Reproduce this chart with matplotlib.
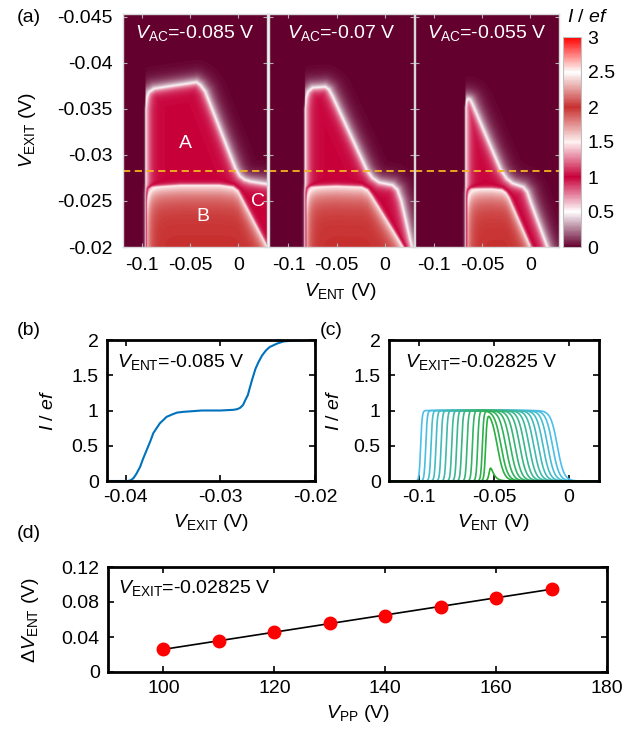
import numpy as np
import matplotlib
matplotlib.use('Agg')
import matplotlib.pyplot as plt
from matplotlib.colors import LinearSegmentedColormap

plt.rcParams['font.family'] = ['Liberation Sans', 'DejaVu Sans']
plt.rcParams['mathtext.fontset'] = 'custom'
plt.rcParams['mathtext.rm'] = 'Liberation Sans'
plt.rcParams['mathtext.it'] = 'Liberation Sans:italic'
plt.rcParams['mathtext.bf'] = 'Liberation Sans:bold'
plt.rcParams['axes.unicode_minus'] = False
FS = 14

# ---- panel (a): boundaries of the current plateaus ----
ac_labels = ['-0.085', '-0.07', '-0.055']
# outer edge (I goes 0 -> 1): (V_ENT, V_EXIT) points, first point = left edge
outer_x = [
    [-0.0968, -0.0955, -0.0935, -0.0880, -0.0700, -0.0440, -0.0400, -0.0350, -0.0035, 0.0010, 0.0060, 0.0120, 0.0300],
    [-0.0830, -0.0818, -0.0795, -0.0750, -0.0620, -0.0580, -0.0540, -0.0190, -0.0130, -0.0060, 0.0080, 0.0130, 0.0170, 0.0280],
    [-0.0678, -0.0668, -0.0650, -0.0630, -0.0610, -0.0314, -0.0250, -0.0190, -0.0080, -0.0040, 0.0000, 0.0170],
]
outer_v = [
    [-0.0350, -0.0362, -0.0368, -0.0372, -0.0375, -0.0379, -0.0376, -0.0369, -0.0285, -0.0277, -0.0273, -0.0271, -0.0268],
    [-0.0350, -0.0362, -0.0369, -0.0373, -0.0374, -0.0371, -0.0363, -0.0284, -0.0275, -0.0270, -0.0267, -0.0262, -0.0250, -0.0200],
    [-0.0352, -0.0358, -0.0361, -0.0360, -0.0356, -0.0284, -0.0274, -0.0269, -0.0265, -0.0260, -0.0248, -0.0200],
]
# inner edge (I goes 1 -> 2), region B
inner_x = [
    [-0.0951, -0.0940, -0.0900, -0.0600, -0.0200, -0.0060, -0.0010, 0.0030, 0.0295],
    [-0.0813, -0.0803, -0.0770, -0.0500, -0.0240, -0.0180, -0.0140, 0.0190],
    [-0.0660, -0.0650, -0.0620, -0.0400, -0.0300, -0.0260, -0.0230, -0.0003],
]
inner_v = [
    [-0.0258, -0.0263, -0.0265, -0.0267, -0.0267, -0.0265, -0.0261, -0.0253, -0.0200],
    [-0.0258, -0.0263, -0.0265, -0.0266, -0.0265, -0.0262, -0.0256, -0.0200],
    [-0.0257, -0.0261, -0.0263, -0.0263, -0.0262, -0.0259, -0.0254, -0.0200],
]
v_cut = -0.02825

# ---- panel (b) ----
b_x = [-0.0420, -0.0398, -0.0395, -0.0392, -0.0389, -0.0385, -0.0382, -0.0378, -0.0374, -0.0371,
       -0.0367, -0.0364, -0.0360, -0.0357, -0.0350, -0.0346, -0.0340, -0.0330, -0.0320, -0.0300,
       -0.0286, -0.0282, -0.0279, -0.0276, -0.0274, -0.0271, -0.0269, -0.0266, -0.0263, -0.0260,
       -0.0256, -0.0252, -0.0248, -0.0240, -0.0233, -0.0225, -0.0210, -0.0200]
b_y = [0.00, 0.00, 0.01, 0.04, 0.10, 0.20, 0.31, 0.44, 0.57, 0.68,
       0.76, 0.82, 0.87, 0.91, 0.95, 0.97, 0.98, 0.99, 1.00, 1.00,
       1.01, 1.02, 1.04, 1.08, 1.14, 1.22, 1.32, 1.46, 1.59, 1.68,
       1.78, 1.85, 1.90, 1.95, 1.98, 1.99, 2.00, 2.00]

# ---- panel (c): rising / falling edge positions of each trace ----
c_left = [-0.0989, -0.0955, -0.0920, -0.0887, -0.0853, -0.0818, -0.0782, -0.0749,
          -0.0716, -0.0680, -0.0644, -0.0609, -0.0578, -0.0556, -0.0530]
c_right = [-0.0078, -0.0110, -0.0142, -0.0173, -0.0204, -0.0235, -0.0266, -0.0297,
           -0.0328, -0.0360, -0.0391, -0.0422, -0.0453, -0.0478, -0.0550]

# ---- panel (d) ----
d_vpp = [100, 110, 120, 130, 140, 150, 160, 170]
d_dv = [0.0263, 0.0358, 0.0453, 0.0556, 0.0640, 0.0747, 0.0850, 0.0952]

W, H = 633, 735
fig = plt.figure(figsize=(W / 100, H / 100), dpi=100)


def fpos(l, t, r, b):
    return [l / W, 1 - b / H, (r - l) / W, (b - t) / H]


cmap = LinearSegmentedColormap.from_list('iqe', [
    (0.0, '#64002f'), (1 / 6, '#ffffff'), (2 / 6, '#c8003a'),
    (0.5, '#fff2f2'), (4 / 6, '#c83030'), (5 / 6, '#ffffff'), (1.0, '#ff0000')])

XLIM = (-0.12, 0.03)
VBOT, VTOP = -0.02, -0.0453
SX = 144.5 / (XLIM[1] - XLIM[0])
SV = 233 / (VBOT - VTOP)

gx = np.linspace(XLIM[0], XLIM[1], 290)
gv = np.linspace(VBOT, VTOP, 466)
X, V = np.meshgrid(gx, gv)


def boundary(bx, bv):
    bx = np.asarray(bx, float)
    bv = np.asarray(bv, float)
    if bv[-1] >= -0.0201:
        ex, ev = 2 * bx[-1] - bx[-2], 2 * bv[-1] - bv[-2]
    else:
        ex, ev = 0.06, bv[-1]
    px = np.r_[bx[0], bx, ex]
    pv = np.r_[-0.015, bv, ev]
    d = np.full(X.shape, 1e9)
    for k in range(len(px) - 1):
        seg = np.hypot((px[k + 1] - px[k]) * SX, (pv[k + 1] - pv[k]) * SV)
        for t in np.linspace(0, 1, max(2, int(seg / 0.3))):
            sx = px[k] + t * (px[k + 1] - px[k])
            sv = pv[k] + t * (pv[k + 1] - pv[k])
            d = np.minimum(d, np.hypot((X - sx) * SX, (V - sv) * SV))
    top = np.interp(X, px[1:], pv[1:])
    inside = (X >= bx[0]) & (V >= top)
    return inside, d, (V - top) * SV


lefts = [122.7, 269.2, 414.7]
axes_a = []
for i in range(3):
    ax = fig.add_axes(fpos(lefts[i], 14, lefts[i] + 144.5, 247))
    axes_a.append(ax)
    inA, dA, _ = boundary(outer_x[i], outer_v[i])
    w_out = np.where(X < outer_x[i][0], 0.6, 6.0)
    fA = np.where(inA, 1 - 0.5 * np.exp(-dA / 4.0), 0.5 * np.exp(-dA / w_out))
    inB, dB, dvB = boundary(inner_x[i], inner_v[i])
    fB = np.where(inB, 0.5 + 0.5 * (1 - np.exp(-np.maximum(dvB, 0) / 12)), 0.5 * np.exp(-dB / 1.5))
    Z = fA + fB
    im = ax.imshow(Z, cmap=cmap, vmin=0, vmax=3, origin='lower', aspect='auto',
                   extent=(XLIM[0], XLIM[1], VBOT, VTOP), interpolation='bilinear')
    ax.set_xlim(*XLIM)
    ax.set_ylim(VBOT, VTOP)
    ax.axhline(v_cut, color='#f2b41f', ls=(0, (4, 2.5)), lw=1.3)
    ax.set_xticks([-0.1, -0.05, 0])
    ax.set_xticklabels(['-0.1', '-0.05', '0'], fontsize=FS)
    ax.set_yticks([-0.045, -0.04, -0.035, -0.03, -0.025, -0.02])
    if i == 0:
        ax.set_yticklabels(['-0.045', '-0.04', '-0.035', '-0.03', '-0.025', '-0.02'], fontsize=FS)
    else:
        ax.set_yticklabels([])
    ax.tick_params(direction='in', length=3, color='#b0b0b0', top=True, right=True, pad=7)
    for s in ax.spines.values():
        s.set_color('#d8d8d8')
        s.set_linewidth(1.0)
    ax.text(0.5, 0.918, r'$V_{\rm AC}$=' + ac_labels[i] + ' V', transform=ax.transAxes,
            ha='center', va='center', color='white', fontsize=FS)

axes_a[0].text(-0.0553, -0.03127, 'A', color='white', fontsize=FS, ha='center', va='center')
axes_a[0].text(-0.0367, -0.0233, 'B', color='white', fontsize=FS, ha='center', va='center')
axes_a[0].text(0.0205, -0.0249, 'C', color='white', fontsize=FS, ha='center', va='center')

cax = fig.add_axes(fpos(562.7, 37, 580.7, 247))
cb = fig.colorbar(im, cax=cax, ticks=[0, 0.5, 1, 1.5, 2, 2.5, 3])
cb.ax.set_yticklabels(['0', '0.5', '1', '1.5', '2', '2.5', '3'], fontsize=FS)
cb.ax.tick_params(length=0, pad=5)
cb.outline.set_edgecolor('#c0c0c0')
fig.text(588 / W, 1 - 17 / H, r'$I$ / $ef$', fontsize=FS, ha='center', va='center')

fig.text(28 / W, 1 - 130 / H, r'$V_{\rm EXIT}$ (V)', rotation=90, fontsize=FS, ha='center', va='center')
fig.text(341 / W, 1 - 291 / H, r'$V_{\rm ENT}$ (V)', fontsize=FS, ha='center', va='center')
fig.text(17 / W, 1 - 17 / H, '(a)', fontsize=FS, ha='left', va='center')


def frame(ax):
    for s in ax.spines.values():
        s.set_linewidth(2.0)
    ax.tick_params(direction='in', length=4, width=1.2, top=True, right=True, labelsize=FS, pad=6)


# (b)
axb = fig.add_axes(fpos(107, 340, 315, 481))
axb.plot(b_x, b_y, color='#0072bd', lw=1.5)
axb.set_xlim(-0.042, -0.02)
axb.set_ylim(0, 2)
axb.set_xticks([-0.04, -0.03, -0.02])
axb.set_xticklabels(['-0.04', '-0.03', '-0.02'])
axb.set_yticks([0, 0.5, 1, 1.5, 2])
axb.set_yticklabels(['0', '0.5', '1', '1.5', '2'])
frame(axb)
axb.set_xlabel(r'$V_{\rm EXIT}$ (V)', fontsize=FS)
axb.xaxis.set_label_coords(0.5, -0.22)
axb.set_ylabel(r'$I$ / $ef$', fontsize=FS)
axb.yaxis.set_label_coords(-0.24, 0.5)
axb.text(0.05, 0.845, r'$V_{\rm ENT}$=-0.085 V', transform=axb.transAxes, fontsize=FS, va='center')
fig.text(17 / W, 1 - 331 / H, '(b)', fontsize=FS, ha='left', va='center')

# (c)
axc = fig.add_axes(fpos(389, 340, 599, 481))
xc = np.linspace(-0.12, 0.02, 800)
c0 = np.array([0.30, 0.75, 0.93])
c1 = np.array([0.16, 0.68, 0.20])
n = len(c_left)
for k in range(n):
    rise = 1 / (1 + np.exp(-(xc - c_left[k]) / 0.0005))
    fall = 1 / (1 + np.exp((xc - c_right[k]) / 0.0022))
    col = c0 + (c1 - c0) * k / (n - 1)
    axc.plot(xc, rise * fall, color=col, lw=1.2)
axc.set_xlim(-0.12, 0.02)
axc.set_ylim(0, 2)
axc.set_xticks([-0.1, -0.05, 0])
axc.set_xticklabels(['-0.1', '-0.05', '0'])
axc.set_yticks([0, 0.5, 1, 1.5, 2])
axc.set_yticklabels(['0', '0.5', '1', '1.5', '2'])
frame(axc)
axc.set_xlabel(r'$V_{\rm ENT}$ (V)', fontsize=FS)
axc.xaxis.set_label_coords(0.5, -0.22)
axc.set_ylabel(r'$I$ / $ef$', fontsize=FS)
axc.yaxis.set_label_coords(-0.22, 0.5)
axc.text(0.075, 0.845, r'$V_{\rm EXIT}$=-0.02825 V', transform=axc.transAxes, fontsize=FS, va='center')
fig.text(320 / W, 1 - 331 / H, '(c)', fontsize=FS, ha='left', va='center')

# (d)
axd = fig.add_axes(fpos(108, 567, 607, 672))
coef = np.polyfit(d_vpp, d_dv, 1)
fit_x = np.array([d_vpp[0], d_vpp[-1]])
axd.plot(fit_x, np.polyval(coef, fit_x), color='black', lw=1.2, zorder=2)
axd.plot(d_vpp, d_dv, 'o', color='#ff0000', ms=9, mec='#ff0000', zorder=3)
axd.set_xlim(90, 180)
axd.set_ylim(0, 0.12)
axd.set_xticks([100, 120, 140, 160, 180])
axd.set_yticks([0, 0.04, 0.08, 0.12])
axd.set_yticklabels(['0', '0.04', '0.08', '0.12'])
frame(axd)
axd.set_xlabel(r'$V_{\rm PP}$ (V)', fontsize=FS)
axd.xaxis.set_label_coords(0.5, -0.3)
axd.set_ylabel(r'$\Delta V_{\rm ENT}$ (V)', fontsize=FS)
axd.yaxis.set_label_coords(-0.134, 0.5)
axd.text(0.02, 0.8, r'$V_{\rm EXIT}$=-0.02825 V', transform=axd.transAxes, fontsize=FS, va='center')
fig.text(17 / W, 1 - 533 / H, '(d)', fontsize=FS, ha='left', va='center')

fig.savefig('out.png', dpi=100)
